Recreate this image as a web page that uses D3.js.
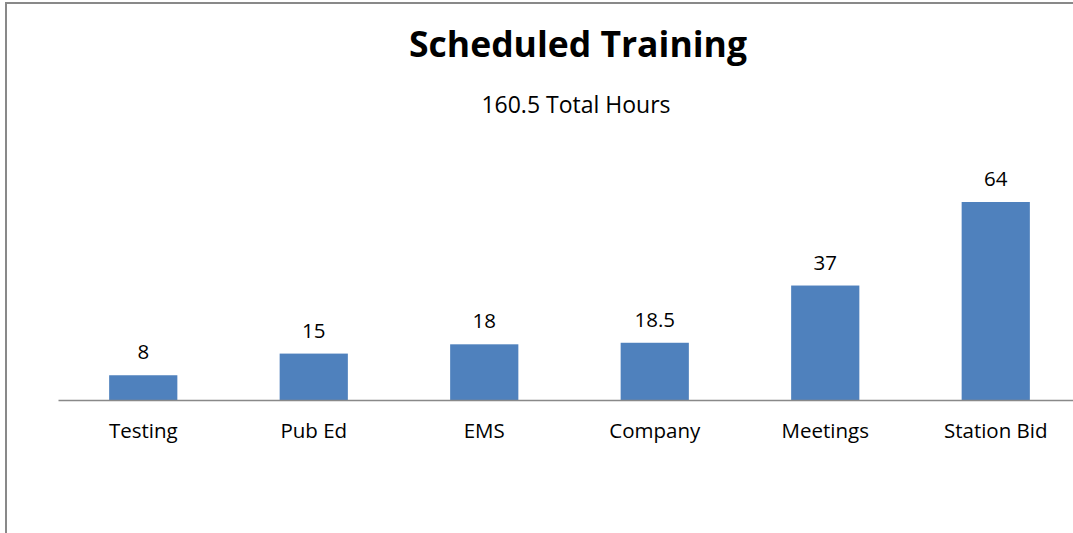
<!DOCTYPE html>
<html>
<head>
<meta charset="utf-8">
<script src="https://cdn.jsdelivr.net/npm/d3@7"></script>
<style>
  body { margin: 0; background: #fff; }
  text { font-family: "Open Sans", Lato, sans-serif; fill: #000; }
</style>
</head>
<body>
<div id="chart"></div>
<script>
var categories = ["Testing", "Pub Ed", "EMS", "Company", "Meetings", "Station Bid"];
var hours = [8, 15, 18, 18.5, 37, 64];
var title = "Scheduled Training";
var subtitle = "160.5 Total Hours";

var width = 1073, height = 533;
var axisY = 400;

var svg = d3.select("#chart").append("svg")
    .attr("width", width)
    .attr("height", height);

// outer chart border (runs off the right and bottom edges)
svg.append("rect")
    .attr("x", 6).attr("y", 3)
    .attr("width", 1200).attr("height", 800)
    .attr("fill", "none")
    .attr("stroke", "#898989")
    .attr("stroke-width", 2);

var x = d3.scaleBand()
    .domain(categories)
    .range([58, 58 + 170.5 * categories.length])
    .paddingInner(0.6)
    .paddingOuter(0.3);

var y = d3.scaleLinear()
    .domain([0, 64])
    .range([axisY, 202]);

svg.selectAll("rect.bar")
    .data(hours)
    .enter().append("rect")
    .attr("class", "bar")
    .attr("x", function(d, i) { return x(categories[i]); })
    .attr("y", function(d) { return y(d); })
    .attr("width", x.bandwidth())
    .attr("height", function(d) { return axisY - y(d); })
    .attr("fill", "#4f81bd");

// value labels
svg.selectAll("text.val")
    .data(hours)
    .enter().append("text")
    .attr("class", "val")
    .attr("x", function(d, i) { return x(categories[i]) + x.bandwidth() / 2; })
    .attr("y", function(d) { return y(d) - 16; })
    .attr("text-anchor", "middle")
    .style("font-size", "20.5px")
    .text(function(d) { return d; });

// category axis
var axis = svg.append("g")
    .attr("transform", "translate(0," + axisY + ")")
    .call(d3.axisBottom(x).tickSize(0).tickPadding(23.5));
axis.select(".domain").attr("stroke", "#898989").attr("stroke-width", 1.5);
axis.selectAll("text")
    .style("font-family", "'Open Sans', Lato, sans-serif")
    .style("font-size", "20.5px")
    .attr("fill", "#000");

svg.append("text")
    .attr("x", 578).attr("y", 57)
    .attr("text-anchor", "middle")
    .style("font-size", "35.5px")
    .style("font-weight", "bold")
    .text(title);

svg.append("text")
    .attr("x", 576).attr("y", 113)
    .attr("text-anchor", "middle")
    .style("font-size", "23px")
    .text(subtitle);
</script>
</body>
</html>
